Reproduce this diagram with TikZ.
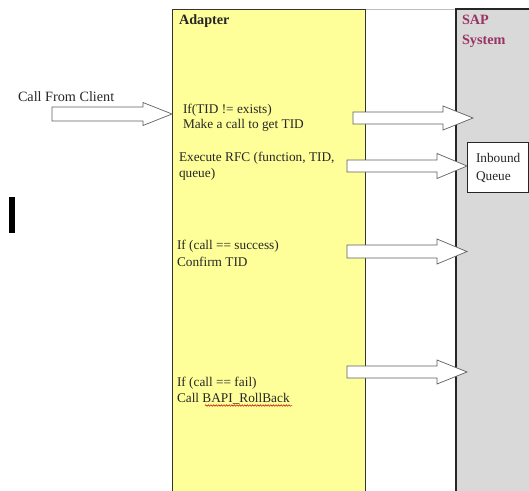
\documentclass[tikz,border=0pt]{standalone}
\usepackage{fontspec}
\setmainfont{Liberation Serif}
\usetikzlibrary{decorations.pathmorphing}
\definecolor{padyellow}{HTML}{FFFF99}
\definecolor{sapgray}{HTML}{D9D9D9}
\definecolor{sapred}{HTML}{993366}
\definecolor{arrowline}{HTML}{606060}
\tikzset{
  lane/.style={draw=black!80, line width=0.8pt},
  txt/.style={anchor=base west, inner sep=0pt, outer sep=0pt, font=\fontsize{13.3}{16}\selectfont, text=black!85},
  bigtxt/.style={anchor=base west, inner sep=0pt, outer sep=0pt, font=\fontsize{14.2}{16}\selectfont, text=black!85},
  blk/.style={draw=arrowline, fill=white, line width=0.7pt, line join=miter},
}
% #1 body left x, #2 head base x, #3 tip x, #4 centre y, #5 body half height, #6 head half height
\newcommand\blkarrow[6]{%
  \draw[blk] (#1,#4-#5) -- (#2,#4-#5) -- (#2,#4-#6) -- (#3,#4) -- (#2,#4+#6) -- (#2,#4+#5) -- (#1,#4+#5) -- cycle;}
\begin{document}
\begin{tikzpicture}[x=1pt,y=-1pt]
\useasboundingbox (0,0) rectangle (529,490);
% lanes
\draw[black!25, line width=0.6pt] (365,9) -- (456,9);
\fill[padyellow] (172,9) rectangle (365,492);
\draw[lane] (172,492) -- (172,9) -- (365,9) -- (365,492);
\fill[sapgray] (456,9) rectangle (531,492);
\draw[black!85, line width=1.6pt] (456,492) -- (456,9) -- (531,9);
% titles
\node[bigtxt, font=\fontsize{14.2}{16}\selectfont\bfseries] (adapter) at (179,24) {Adapter};
\node[bigtxt, font=\fontsize{14.2}{16}\selectfont\bfseries, text=sapred] (sap1) at (462,24) {SAP};
\node[bigtxt, font=\fontsize{14.2}{16}\selectfont\bfseries, text=sapred] (sap2) at (462,44) {System};
% client
\node[bigtxt] (client) at (18,101) {Call From Client};
\fill[black] (9,197) rectangle (15,233);
% adapter texts
\node[txt] (t1a) at (183,113) {If(TID != exists)};
\node[txt] (t1b) at (183,128) {Make a call to get TID};
\node[txt] (t2a) at (179,161) {Execute RFC (function, TID,};
\node[txt] (t2b) at (179,177) {queue)};
\node[txt] (t3a) at (177,249) {If (call == success)};
\node[txt] (t3b) at (177,266) {Confirm TID};
\node[txt] (t4a) at (177,386) {If (call == fail)};
\node[txt] (t4b) at (177,402) {Call BAPI\_RollBack};
\draw[red!80!black, line width=0.5pt, decorate, decoration={snake, amplitude=0.8pt, segment length=2.6pt}] (205,405.5) -- (292,405.5);
% arrows
\blkarrow{52}{143}{172}{114}{7}{11.5}
\blkarrow{353}{443}{473}{118}{6}{12}
\blkarrow{347}{437}{467}{166}{6}{12.5}
\blkarrow{347}{437}{467}{251.5}{6.5}{12.5}
\blkarrow{347}{437}{467}{372}{6}{12}
% inbound queue
\draw[black!85, fill=white, line width=0.7pt] (467,142) rectangle (528,192);
\node[txt] (iq1) at (476,162) {Inbound};
\node[txt] (iq2) at (476,180) {Queue};
\end{tikzpicture}
\end{document}
